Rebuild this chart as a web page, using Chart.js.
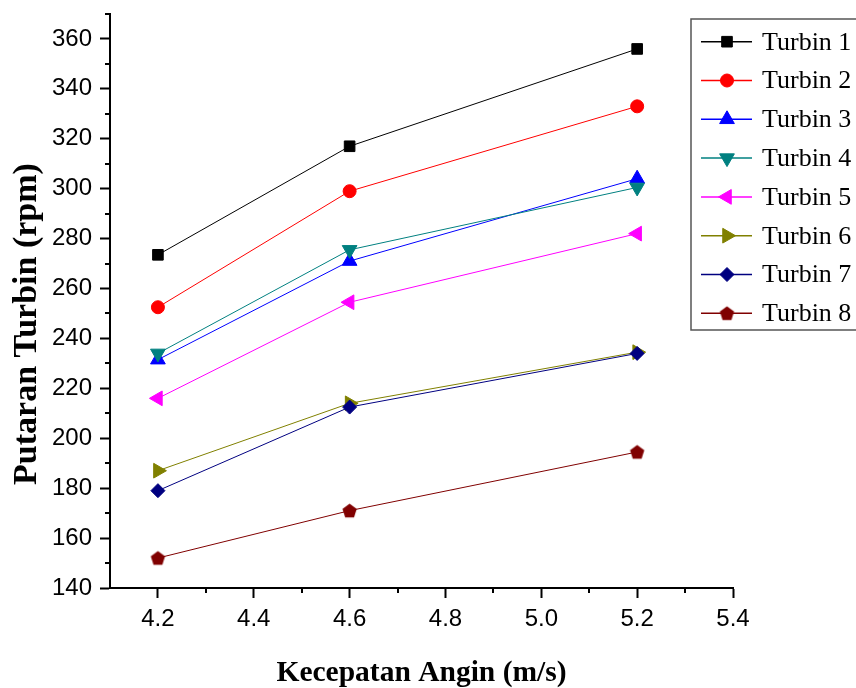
<!DOCTYPE html>
<html>
<head>
<meta charset="utf-8">
<title>Putaran Turbin</title>
<script src="https://cdn.jsdelivr.net/npm/chart.js"></script>
<style>
  html, body { margin: 0; padding: 0; background: #fff; }
  #chart { display: block; }
</style>
</head>
<body>
<canvas id="chart" width="856" height="688"></canvas>
<script>
// data
const windSpeed = [4.2, 4.6, 5.2];
const turbin1 = [273.5, 317, 356];
const turbin2 = [252.5, 299, 333];
const turbin3 = [231.5, 271, 304];
const turbin4 = [234, 275.5, 300.5];
const turbin5 = [216, 254.5, 282];
const turbin6 = [187, 214, 234.5];
const turbin7 = [179, 212.5, 234];
const turbin8 = [152, 171, 194.5];

const seriesNames = ['Turbin 1', 'Turbin 2', 'Turbin 3', 'Turbin 4', 'Turbin 5', 'Turbin 6', 'Turbin 7', 'Turbin 8'];
const seriesValues = [turbin1, turbin2, turbin3, turbin4, turbin5, turbin6, turbin7, turbin8];

const xTicks = [4.2, 4.4, 4.6, 4.8, 5.0, 5.2, 5.4];
const xMinor = [4.3, 4.5, 4.7, 4.9, 5.1, 5.3];
const yTicks = [140, 160, 180, 200, 220, 240, 260, 280, 300, 320, 340, 360];
const yMinor = [150, 170, 190, 210, 230, 250, 270, 290, 310, 330, 350, 370];

const yTitle = 'Putaran Turbin (rpm)';
const xTitle = 'Kecepatan Angin (m/s)';

// pentagon marker (no built-in style for it)
function pentagon(color, r) {
    const c = document.createElement('canvas');
    const s = Math.ceil(r * 2) + 2;
    c.width = s; c.height = s;
    const g = c.getContext('2d');
    g.fillStyle = color;
    g.beginPath();
    for (let k = 0; k < 5; k++) {
        const a = -Math.PI / 2 + k * 2 * Math.PI / 5;
        const px = s / 2 + Math.cos(a) * r;
        const py = s / 2 + 0.6 + Math.sin(a) * r;
        if (k === 0) g.moveTo(px, py); else g.lineTo(px, py);
    }
    g.closePath();
    g.fill();
    return c;
}

const styles = [
    { color: '#000000', point: 'rect', rot: 0, r: 7.5 },
    { color: '#ff0000', point: 'circle', rot: 0, r: 6.5 },
    { color: '#0000ff', point: 'triangle', rot: 0, r: 8.5 },
    { color: '#008080', point: 'triangle', rot: 180, r: 8.5 },
    { color: '#ff00ff', point: 'triangle', rot: -90, r: 8.5 },
    { color: '#808000', point: 'triangle', rot: 90, r: 8.5 },
    { color: '#000080', point: 'rectRot', rot: 0, r: 7 },
    { color: '#800000', point: pentagon('#800000', 7.5), rot: 0, r: 7.5 }
];

const datasets = seriesNames.map((name, i) => ({
    label: name,
    data: windSpeed.map((x, j) => ({ x: x, y: seriesValues[i][j] })),
    borderColor: styles[i].color,
    backgroundColor: styles[i].color,
    borderWidth: 1,
    pointStyle: styles[i].point,
    pointRotation: styles[i].rot,
    pointRadius: styles[i].r,
    pointBackgroundColor: styles[i].color,
    pointBorderColor: styles[i].color,
    pointBorderWidth: 1,
    tension: 0,
    order: 8 - i
}));

// minor ticks, y title and boxed legend inside the plot
const extras = {
    id: 'extras',
    afterDraw(chart) {
        const ctx = chart.ctx;
        const area = chart.chartArea;
        const xs = chart.scales.x;
        const ys = chart.scales.y;
        ctx.save();
        ctx.strokeStyle = '#000';
        ctx.lineWidth = 2;
        ctx.beginPath();
        xMinor.forEach(v => {
            const px = Math.round(xs.getPixelForValue(v));
            ctx.moveTo(px, area.bottom);
            ctx.lineTo(px, area.bottom + 5);
        });
        yMinor.forEach(v => {
            const py = Math.round(ys.getPixelForValue(v));
            ctx.moveTo(area.left, py);
            ctx.lineTo(area.left - 5, py);
        });
        ctx.stroke();

        // y axis title, sitting a bit lower than the axis centre
        ctx.save();
        ctx.translate(27, 324);
        ctx.rotate(-Math.PI / 2);
        ctx.fillStyle = '#000';
        ctx.font = 'bold 34px "Liberation Serif", "Times New Roman", serif';
        ctx.textAlign = 'center';
        ctx.textBaseline = 'middle';
        ctx.fillText(yTitle, 0, 0);
        ctx.restore();

        // legend box
        ctx.strokeStyle = '#555';
        ctx.lineWidth = 1.5;
        ctx.fillStyle = '#fff';
        ctx.fillRect(691, 19, 180, 311);
        ctx.strokeRect(691, 19, 180, 311);

        ctx.font = '26px "Liberation Serif", "Times New Roman", serif';
        ctx.textBaseline = 'middle';
        ctx.textAlign = 'left';
        seriesNames.forEach((name, i) => {
            const y = 41.7 + i * 38.8;
            const st = styles[i];
            ctx.strokeStyle = st.color;
            ctx.lineWidth = 1.5;
            ctx.beginPath();
            ctx.moveTo(701, y);
            ctx.lineTo(752, y);
            ctx.stroke();
            ctx.fillStyle = st.color;
            ctx.lineWidth = 1;
            Chart.helpers.drawPoint(ctx, {
                pointStyle: st.point, rotation: st.rot, radius: st.r, borderWidth: 1
            }, 727, y);
            ctx.fillStyle = '#000';
            ctx.fillText(name, 762, y + 1);
        });
        ctx.restore();
    }
};

new Chart(document.getElementById('chart'), {
    type: 'line',
    data: { datasets: datasets },
    options: {
        responsive: false,
        animation: false,
        events: [],
        layout: { padding: { top: 14, right: 123, left: 0, bottom: 0 } },
        scales: {
            x: {
                type: 'linear',
                min: 4.1,
                max: 5.4,
                afterBuildTicks: s => { s.ticks = xTicks.map(v => ({ value: v })); },
                afterFit: s => { s.height = 100; s.paddingLeft = 0; s.paddingRight = 0; },
                border: { display: true, color: '#000', width: 2 },
                grid: { drawOnChartArea: false, drawTicks: true, tickLength: 10, tickWidth: 2, tickColor: '#000' },
                ticks: {
                    padding: 7,
                    color: '#000',
                    font: { family: '"Liberation Sans", Arial, sans-serif', size: 24 },
                    callback: v => Number(v).toFixed(1)
                },
                title: {
                    display: true,
                    text: xTitle,
                    color: '#000',
                    font: { family: '"Liberation Serif", "Times New Roman", serif', size: 29.5, weight: 'bold', lineHeight: 1 },
                    padding: { top: 0, bottom: 0 }
                }
            },
            y: {
                type: 'linear',
                min: 140,
                max: 370,
                afterBuildTicks: s => { s.ticks = yTicks.map(v => ({ value: v })); },
                afterFit: s => { s.width = 110; s.paddingTop = 0; s.paddingBottom = 0; },
                border: { display: true, color: '#000', width: 2 },
                grid: { drawOnChartArea: false, drawTicks: true, tickLength: 10, tickWidth: 2, tickColor: '#000' },
                ticks: {
                    padding: 8,
                    color: '#000',
                    font: { family: '"Liberation Sans", Arial, sans-serif', size: 24 }
                }
            }
        },
        plugins: {
            legend: { display: false },
            tooltip: { enabled: false }
        }
    },
    plugins: [extras]
});
</script>
</body>
</html>
